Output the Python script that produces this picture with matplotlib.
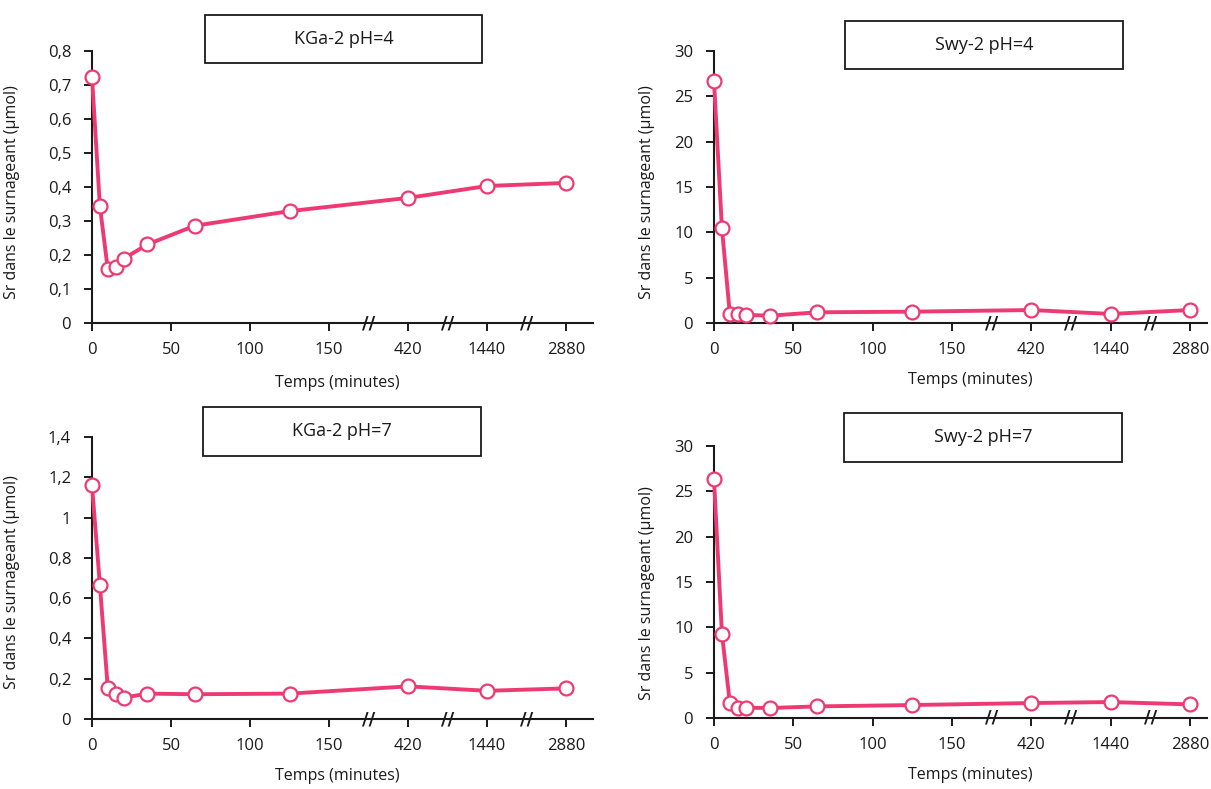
import numpy as np
import matplotlib
matplotlib.use("Agg")
import matplotlib.pyplot as plt
from matplotlib.patches import Rectangle
from matplotlib.ticker import FixedLocator, FuncFormatter, NullLocator
from matplotlib.transforms import blended_transform_factory

plt.rcParams['font.family'] = ['Open Sans', 'DejaVu Sans']

# data
temps = [0, 5, 10, 15, 20, 35, 65, 125, 420, 1440, 2880]
kga2_ph4 = [0.724, 0.343, 0.158, 0.165, 0.189, 0.231, 0.286, 0.329, 0.368, 0.403, 0.412]
swy2_ph4 = [26.7, 10.45, 0.96, 0.96, 0.9, 0.8, 1.18, 1.25, 1.43, 1.0, 1.43]
kga2_ph7 = [1.16, 0.665, 0.152, 0.123, 0.106, 0.126, 0.123, 0.126, 0.162, 0.14, 0.152]
swy2_ph7 = [26.33, 9.28, 1.65, 1.14, 1.14, 1.1, 1.28, 1.43, 1.65, 1.76, 1.5]

titles = ['KGa-2 pH=4', 'Swy-2 pH=4', 'KGa-2 pH=7', 'Swy-2 pH=7']
xticks = [0, 50, 100, 150, 420, 1440, 2880]
yticks_kga4 = [0, 0.1, 0.2, 0.3, 0.4, 0.5, 0.6, 0.7, 0.8]
yticks_kga7 = [0, 0.2, 0.4, 0.6, 0.8, 1, 1.2, 1.4]
yticks_swy = [0, 5, 10, 15, 20, 25, 30]

# broken time axis: 0-150 linear, then 420, 1440, 2880 evenly spaced
knots_t = [0, 150, 420, 1440, 2880, 5760]
knots_p = [0, 150, 200, 250, 300, 350]


def fwd(t):
    return np.interp(t, knots_t, knots_p)


def inv(p):
    return np.interp(p, knots_p, knots_t)


COLOR = '#EE3A72'
TXT = '#1a1a1a'
W, H = 1211, 789
fig = plt.figure(figsize=(W / 100, H / 100), dpi=100)


def make_axes(l, r, t, b):
    return fig.add_axes([l / W, 1 - b / H, (r - l) / W, (b - t) / H])


def comma(v, pos):
    return ('%g' % v).replace('.', ',')


def draw_panel(ax, values, yticks, title, box, xlab_pos, ylab_pos, pright):
    ax.set_xscale('function', functions=(fwd, inv))
    ax.plot(temps, values, color=COLOR, lw=2.8, marker='o', ms=10,
            mfc='white', mec=COLOR, mew=1.6, clip_on=False, zorder=5)
    ax.set_xlim(0, inv(pright))
    ax.set_ylim(yticks[0], yticks[-1])
    ax.xaxis.set_major_locator(FixedLocator(xticks))
    ax.xaxis.set_minor_locator(NullLocator())
    ax.set_xticklabels([str(x) for x in xticks])
    ax.yaxis.set_major_locator(FixedLocator(yticks))
    ax.yaxis.set_major_formatter(FuncFormatter(comma))
    for s in ['top', 'right']:
        ax.spines[s].set_visible(False)
    for s in ['left', 'bottom']:
        ax.spines[s].set_linewidth(1.5)
        ax.spines[s].set_color(TXT)
    ax.tick_params(axis='both', direction='out', length=6, width=1.4,
                   labelsize=12, colors=TXT)
    ax.tick_params(axis='x', pad=8)
    ax.tick_params(axis='y', pad=9)
    ax.set_xlabel('Temps (minutes)', fontsize=11.5, color=TXT)
    ax.set_ylabel('Sr dans le surnageant (µmol)', fontsize=11.5, color=TXT)
    ax.xaxis.set_label_coords(*xlab_pos)
    ax.yaxis.set_label_coords(*ylab_pos)

    # axis break marks
    tr = blended_transform_factory(ax.transData, ax.transAxes)
    for p in [175, 225, 275]:
        ax.text(inv(p), 0, '//', transform=tr, ha='center', va='center',
                fontsize=13, fontweight='bold', family='DejaVu Sans', color=TXT)

    # title box
    x0, x1, y0, y1 = box
    fig.add_artist(Rectangle((x0 / W, 1 - y1 / H), (x1 - x0) / W, (y1 - y0) / H,
                             transform=fig.transFigure, fill=False,
                             lw=1.3, ec=TXT))
    fig.text((x0 + x1) / 2 / W, 1 - (y0 + y1) / 2 / H, title, ha='center',
             va='center', fontsize=13, color=TXT)


ax1 = make_axes(92, 593, 51, 323)
draw_panel(ax1, kga2_ph4, yticks_kga4, titles[0], (205, 482, 15, 63),
           (0.49, -0.191), (-0.143, 0.483), 317)

ax2 = make_axes(714, 1207, 51, 323)
draw_panel(ax2, swy2_ph4, yticks_swy, titles[1], (845, 1123, 21, 69),
           (0.52, -0.18), (-0.12, 0.483), 310.7)

ax3 = make_axes(92, 593, 437, 719)
draw_panel(ax3, kga2_ph7, yticks_kga7, titles[2], (203, 481, 407, 456),
           (0.49, -0.174), (-0.143, 0.485), 317)

ax4 = make_axes(714, 1207, 446, 718)
draw_panel(ax4, swy2_ph7, yticks_swy, titles[3], (844, 1122, 413, 462),
           (0.52, -0.18), (-0.12, 0.46), 310.7)

fig.savefig('out.png', dpi=100, facecolor='white')
